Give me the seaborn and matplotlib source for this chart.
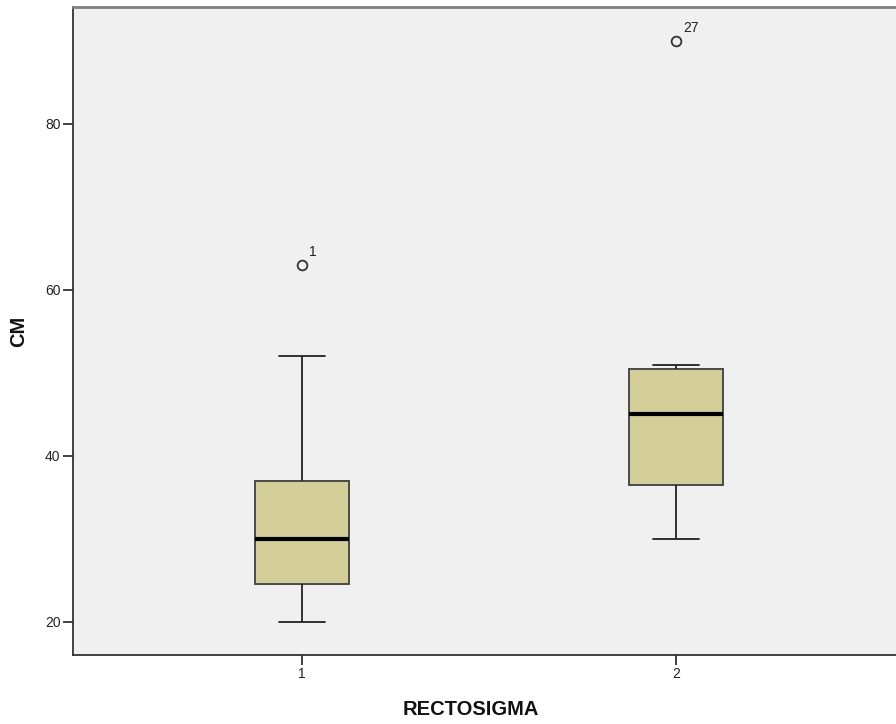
import numpy as np
import pandas as pd
import matplotlib
matplotlib.use("Agg")
import matplotlib.pyplot as plt
import seaborn as sns

# ---- data ----
categories = ["1", "2"]
group1_cm = [20, 22, 24, 24.5, 27, 29, 30, 33, 35, 37, 45, 52, 63]
group2_cm = [30, 33, 35, 36.5, 40, 43, 45, 47, 49, 50.5, 51, 51, 90]
outlier_case_labels = ["1", "27"]
y_ticks = [20, 40, 60, 80]
x_label = "RECTOSIGMA"
y_label = "CM"

df = pd.DataFrame({
    "RECTOSIGMA": [categories[0]] * len(group1_cm) + [categories[1]] * len(group2_cm),
    "CM": group1_cm + group2_cm,
})

sns.set_style("white")
plt.rcParams["font.family"] = ["Liberation Sans", "DejaVu Sans"]

fig = plt.figure(figsize=(8.96, 7.24), dpi=100)
ax = fig.add_axes([73 / 896, 69 / 724, 832 / 896, 648 / 724])
ax.set_facecolor("#F0F0F0")

sns.boxplot(
    data=df, x="RECTOSIGMA", y="CM", order=categories, ax=ax,
    width=0.25, color="#D3CE97", saturation=1,
    linewidth=1.3, linecolor="#3a3a3a",
    whis=1.5,
    boxprops=dict(edgecolor="#4a4a4a", linewidth=1.4),
    medianprops=dict(color="black", linewidth=3),
    whiskerprops=dict(color="#222222", linewidth=1.3),
    capprops=dict(color="#222222", linewidth=1.3),
    flierprops=dict(marker="o", markersize=7, markerfacecolor="none",
                    markeredgecolor="#333333", markeredgewidth=1.3),
)

# outlier case labels
groups = [group1_cm, group2_cm]
for i, (g, lab) in enumerate(zip(groups, outlier_case_labels)):
    arr = np.asarray(g, dtype=float)
    q1, q3 = np.percentile(arr, [25, 75])
    iqr = q3 - q1
    outs = arr[(arr > q3 + 1.5 * iqr) | (arr < q1 - 1.5 * iqr)]
    for v in outs:
        ax.annotate(lab, xy=(i, v), xytext=(5, 4), textcoords="offset points",
                    fontsize=10, color="#222222", ha="left", va="bottom")

ax.set_xlim(-0.612, 1.612)
ax.set_ylim(16.0, 94.1)
ax.set_yticks(y_ticks)
ax.set_yticklabels([str(t) for t in y_ticks])

ax.tick_params(axis="both", direction="out", length=7, width=1.3,
               color="#333333", labelsize=10, labelcolor="#222222", pad=2,
               left=True, bottom=True)

for side in ["left", "bottom"]:
    ax.spines[side].set_color("#333333")
    ax.spines[side].set_linewidth(1.3)
ax.spines["top"].set_color("#808080")
ax.spines["top"].set_linewidth(2)
ax.spines["right"].set_visible(False)

ax.set_xlabel(x_label, fontsize=14.5, fontweight="bold", color="#111111")
ax.set_ylabel(y_label, fontsize=14.5, fontweight="bold", color="#111111")
ax.xaxis.set_label_coords(0.478, -0.069)
ax.yaxis.set_label_coords(-0.054, 0.5)

fig.savefig("out.png", dpi=100)
